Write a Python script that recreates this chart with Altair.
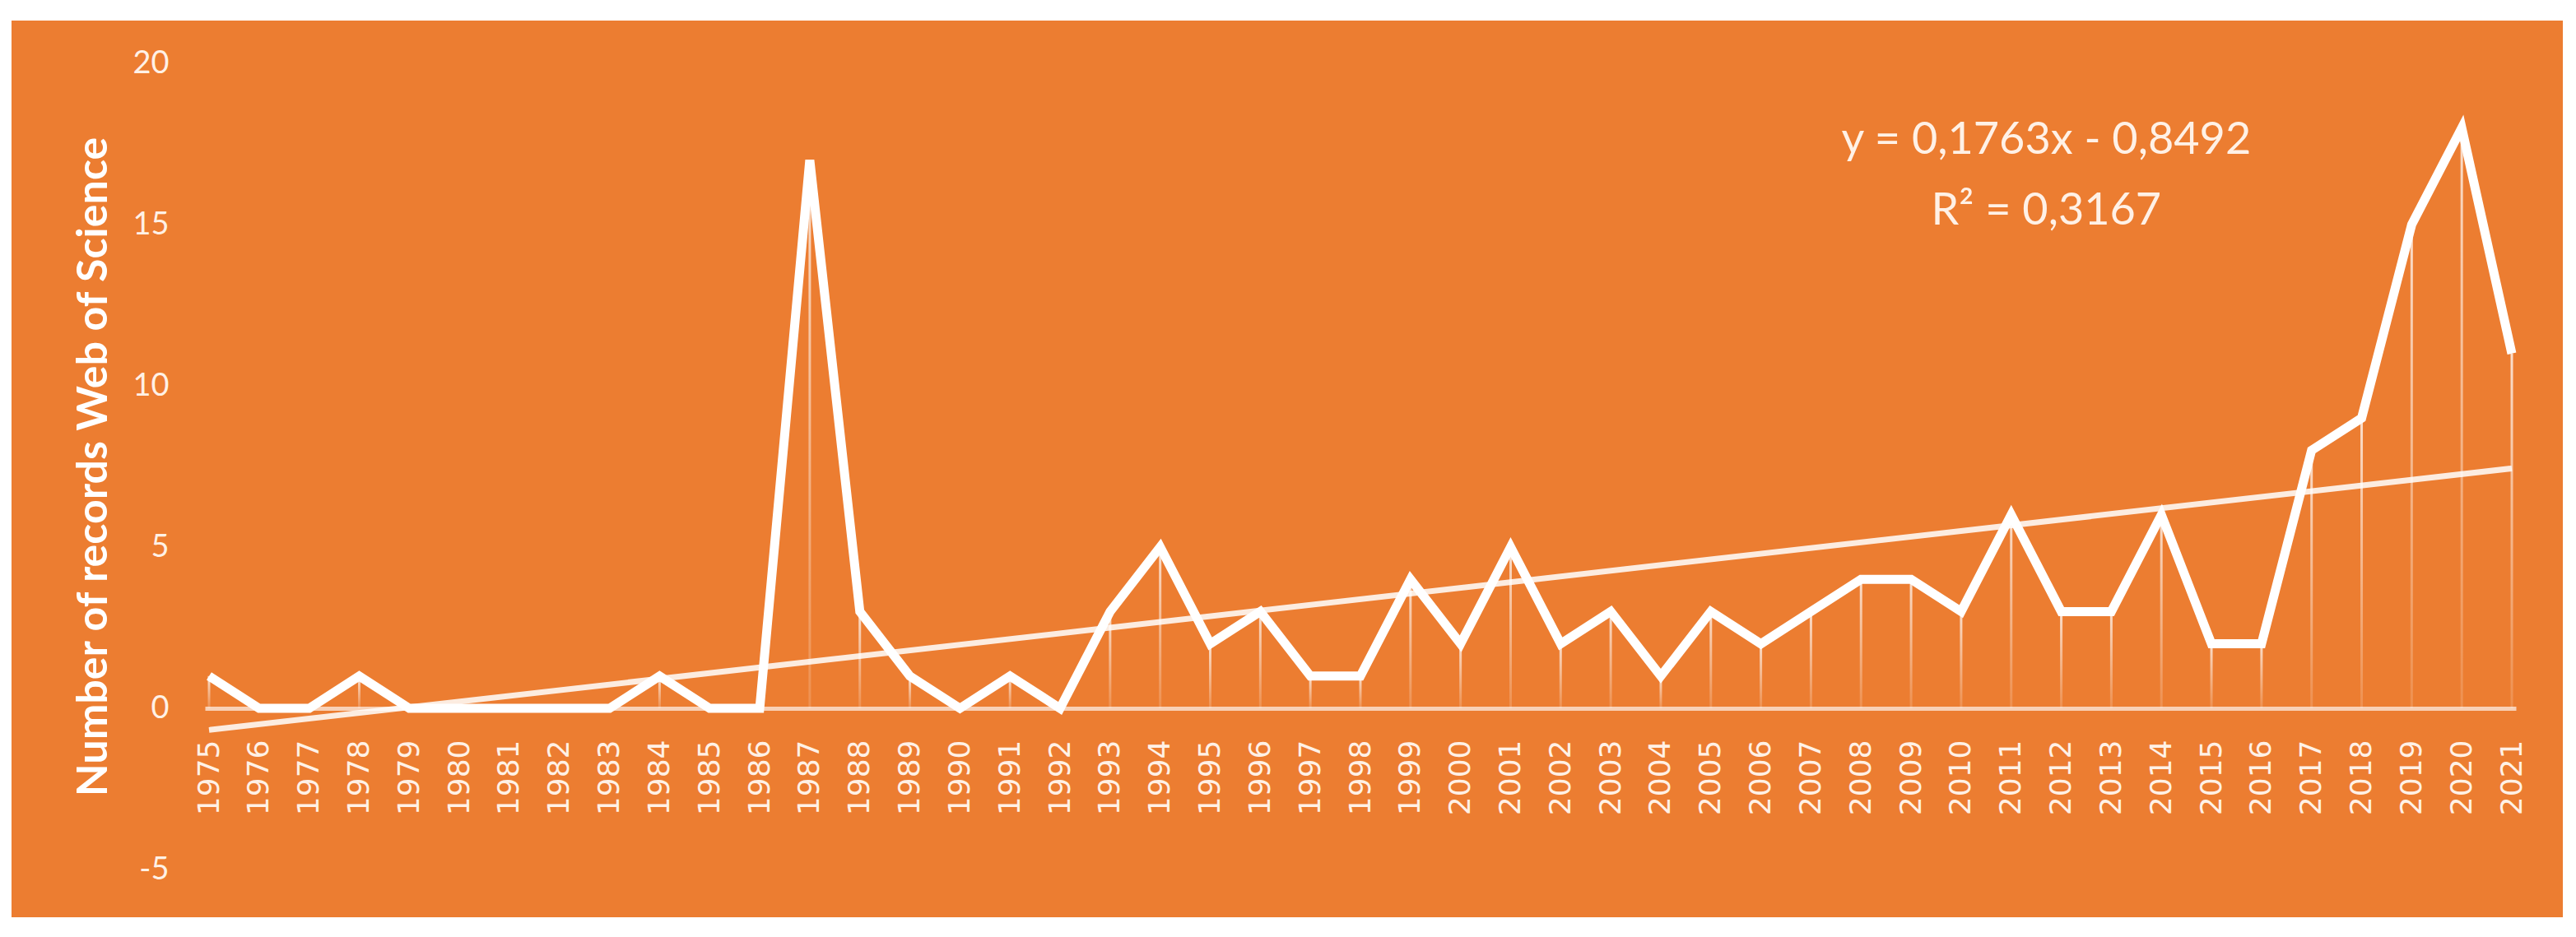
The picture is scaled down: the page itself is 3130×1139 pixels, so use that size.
import altair as alt
import pandas as pd

years = list(range(1975, 2022))
records = [1, 0, 0, 1, 0, 0, 0, 0, 0, 1, 0, 0, 17, 3, 1, 0, 1, 0, 3, 5, 2, 3, 1, 1,
           4, 2, 5, 2, 3, 1, 3, 2, 3, 4, 4, 3, 6, 3, 3, 6, 2, 2, 8, 9, 15, 18, 11]
y_ticks = [-5, 0, 5, 10, 15, 20]
eq_lines = ["y = 0,1763x - 0,8492", "R\u00b2 = 0,3167"]
eq_year = [2011.7, 2011.7]
eq_value = [17.6, 15.4]

ORANGE = "#EC7D31"
W, H = 2808, 980
Y_MIN, Y_MAX = -5, 20
zero_offset = -H * (0 - Y_MIN) / (Y_MAX - Y_MIN)

df = pd.DataFrame({"year": years, "count": records})
ann = pd.DataFrame({"year": eq_year, "value": eq_value, "text": eq_lines})

xs = alt.Scale(domain=[1975, 2021], nice=False, zero=False)
ys = alt.Scale(domain=[Y_MIN, Y_MAX], nice=False)

x_axis = alt.Axis(values=years, format="d", labelAngle=-90, title=None, grid=False,
                  ticks=False, offset=zero_offset, labelPadding=38,
                  labelFont="DejaVu Sans", labelFontSize=36, labelColor="#FFF1E6",
                  domainColor="#FFFFFF", domainOpacity=0.65, domainWidth=5, zindex=1)
y_axis = alt.Axis(values=y_ticks, title="Number of records Web of Science", grid=False,
                  ticks=False, domain=False, labelPadding=44, labelFont="Lato",
                  labelExpr="'' + datum.value",
                  labelFontSize=38, labelColor="#FFF1E6", titleFont="Lato",
                  titleFontWeight="bold", titleFontSize=52, titleColor="#FFFFFF",
                  titlePadding=20, zindex=1)

base = alt.Chart(df)

bg = base.mark_rect(color=ORANGE).encode(
    x=alt.value(-235), x2=alt.value(2865), y=alt.value(-52), y2=alt.value(1038)
).transform_filter("datum.year == 1975")

drops = base.mark_bar(size=3, fill={
    "gradient": "linear", "x1": 0, "y1": 0, "x2": 0, "y2": 1,
    "stops": [{"offset": 0, "color": "rgba(255,255,255,0.75)"},
              {"offset": 1, "color": "rgba(255,255,255,0.15)"}]}).encode(
    x=alt.X("year:Q", scale=xs, axis=x_axis),
    y=alt.Y("count:Q", scale=ys, axis=y_axis),
    y2=alt.datum(0),
)

trend = base.transform_regression("year", "count").mark_line(
    color="#FFFFFF", strokeWidth=7, opacity=0.85).encode(
    x=alt.X("year:Q", scale=xs), y=alt.Y("count:Q", scale=ys))

line = base.mark_line(color="#FFFFFF", strokeWidth=11, strokeJoin="miter").encode(
    x=alt.X("year:Q", scale=xs), y=alt.Y("count:Q", scale=ys))

eq = alt.Chart(ann).mark_text(font="Lato", fontSize=54, color="#FFF1E6",
                              align="center", baseline="middle").encode(
    x=alt.X("year:Q", scale=xs), y=alt.Y("value:Q", scale=ys), text="text:N")

chart = alt.layer(bg, drops, trend, line, eq).properties(
    width=W, height=H,
    autosize=alt.AutoSizeParams(type="none"),
    padding={"left": 241, "top": 69, "right": 60, "bottom": 60},
    background="#FFFFFF",
).configure_view(stroke=None)

chart.save("out.html", embed_options={"renderer": "svg", "actions": False})
